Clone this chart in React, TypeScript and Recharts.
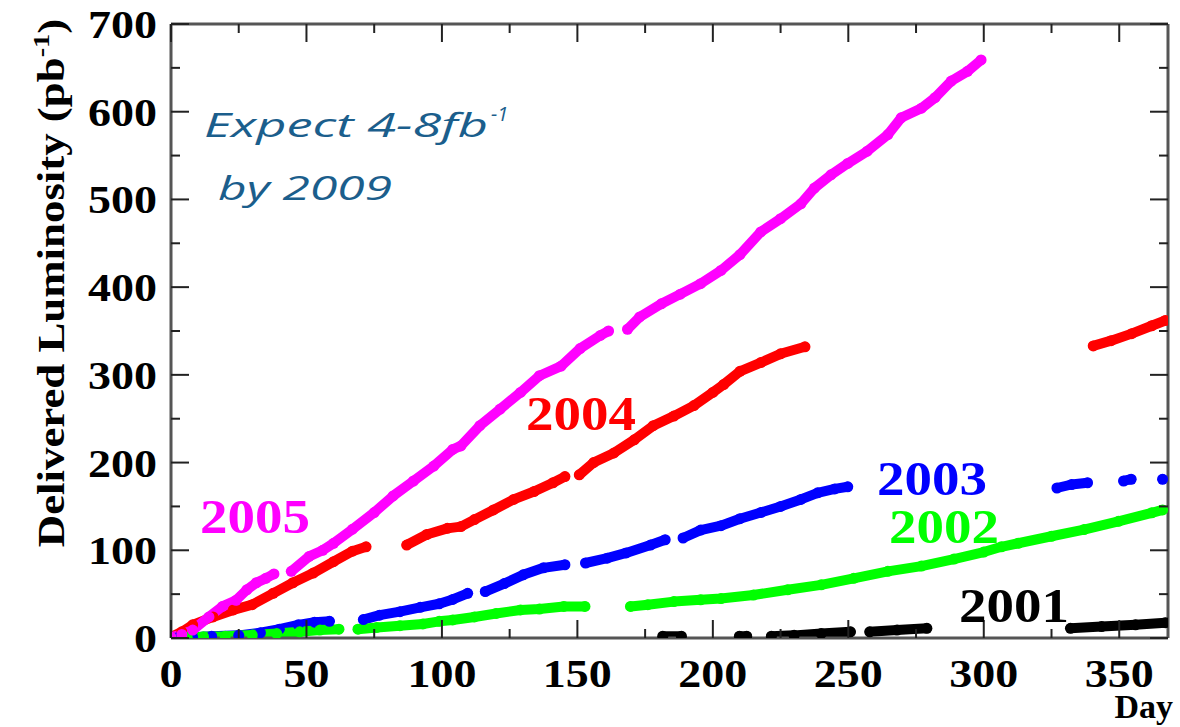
import { LineChart, Line, XAxis, YAxis } from "recharts"

const CHART_W = 1180
const CHART_H = 727

// day of year vs delivered luminosity (pb^-1); null marks a gap in the run
const day2005 = [0, 4, 8, 14, 19, 24, 28, 31.5, 35, 38, 41, 44.4, 51, 56, 60, 67, 75, 82, 89.5, 97, 104, 107, 114, 121.5, 129, 136, 144, 151, 158.5, 161.5, 165, 168.5, 173, 181, 188, 195.5, 203, 210, 217.7, 225, 232.5, 237.5, 243.6, 249.8, 257, 264.6, 269.5, 277, 282, 288, 294, 299]
const lum2005 = [1, 4, 9, 24, 36, 43, 55, 63, 68, 73, null, 76, 93, 100, 108, 124, 143, 162, 179, 196, 215, 219, 242, 261, 280, 299, 310, 330, 345, 350, null, 352, 366, 381, 392, 404, 419, 437, 463, 478, 495, 513, 528, 541, 555, 574, 593, 604, 616, 635, 646, 659]

const day2004 = [0, 4, 8, 15.5, 23, 30, 37.7, 45, 52.5, 60, 67, 72, 80, 87, 94.4, 102, 107, 112, 119, 126.5, 134, 141, 145.4, 148, 150.7, 156, 163.5, 171, 178, 185.6, 193, 200, 204, 210, 217.7, 225, 234, 290, 340.4, 347, 354.6, 362, 367]
const lum2004 = [1, 7, 15, 24, 32, 38, 51, 63, 74, 87, 99, 104, null, 106, 118, 125, 127, 135, 146, 158, 167, 177, 184, null, 186, 200, 211, 226, 242, 253, 265, 280, 289, 304, 314, 324, 332, null, 333, 339, 347, 356, 362]

const day2003 = [2, 8, 15, 25, 33, 40, 47, 53, 58.5, 65, 71, 77, 84.5, 92, 99, 104, 109.5, 113, 116, 123, 130, 137.5, 145.4, 149, 153, 161, 168, 177, 182.4, 186, 189, 195.5, 203, 210, 217.7, 225, 232.5, 238.7, 245, 249.8, 290, 327, 332.4, 338.3, 345, 351.6, 354.4, 360, 366]
const lum2003 = [0, 1, 2, 3, 6, 10, 15, 18, 19, null, 21, 26, 30, 35, 39, 44, 51, null, 53, 62, 72, 80, 83.5, null, 85.5, 91, 97, 106, 112, null, 114, 123, 128, 136, 143, 150, 158, 165.5, 170, 172.4, null, 171, 175, 177, null, 179, 181, null, 181]

const day2002 = [0, 6, 12, 20, 30, 39, 47.5, 55, 62, 65, 69, 76, 84.5, 93, 99, 104, 112, 120, 129, 136, 145, 152.8, 160, 169.6, 176, 185.6, 195.5, 203, 215, 227.6, 240, 252, 264.6, 277, 289, 300, 306.5, 312.7, 325, 337, 349.7, 362, 366]
const lum2002 = [0, 0.5, 1.5, 2, 3.4, 5, 7, 9, 10, null, 10, 12, 14, 16, 19, 20.6, 24, 28, 32, 33, 36, 36, null, 36, 38, 41.5, 43.5, 45, 49, 55, 60.6, 68, 76, 82, 90, 98, 104, 108, 116, 123.6, 133, 142.7, 146]

const day2001 = [181.5, 188.4, 199, 209.8, 212.5, 217, 221.6, 230, 240, 250.8, 254, 257.9, 268, 279, 305, 332, 343.5, 356, 367]
const lum2001 = [2, 2, null, 2, 2, null, 2, 3, 5, 7, null, 7, 9, 11, null, 11, 13, 15, 17.5]

const dayTicks = [0, 25, 50, 75, 100, 125, 150, 175, 200, 225, 250, 275, 300, 325, 350]
const lumTicks = [0, 50, 100, 150, 200, 250, 300, 350, 400, 450, 500, 550, 600, 650, 700]

const toRows = (days: number[], lums: (number | null)[]) =>
  days.map((d, i) => ({ day: d, lum: lums[i] }))

const series = [
  { name: "2001", color: "#000000", rows: toRows(day2001, lum2001) },
  { name: "2004", color: "#ff0000", rows: toRows(day2004, lum2004) },
  { name: "2003", color: "#0000ff", rows: toRows(day2003, lum2003) },
  { name: "2002", color: "#00ff00", rows: toRows(day2002, lum2002) },
  { name: "2005", color: "#ff00ff", rows: toRows(day2005, lum2005) },
]

const SERIF = "'Liberation Serif', 'Times New Roman', serif"
const SANS = "'Open Sans', 'DejaVu Sans', sans-serif"
const GAP = 14
const MAJOR = 18
const MINOR = 9
const DIGIT_W = 23

function LeftTick({ x, y, payload }: any) {
  const v = payload.value
  const major = v % 100 === 0
  const ax = x + GAP
  return (
    <g>
      <line x1={ax} x2={ax + (major ? MAJOR : MINOR)} y1={y} y2={y} stroke="#222" strokeWidth={2} />
      {major && (
        <text
          x={x}
          y={y + 14}
          textAnchor="end"
          fontFamily={SERIF}
          fontWeight="bold"
          fontSize={41}
          textLength={String(v).length * DIGIT_W}
          lengthAdjust="spacingAndGlyphs"
          fill="#000"
        >
          {v}
        </text>
      )}
    </g>
  )
}

function RightTick({ x, y, payload }: any) {
  const major = payload.value % 100 === 0
  const ax = x - GAP
  return <line x1={ax} x2={ax - (major ? MAJOR : MINOR)} y1={y} y2={y} stroke="#222" strokeWidth={2} />
}

function BottomTick({ x, y, payload }: any) {
  const v = payload.value
  const major = v % 50 === 0
  const ay = y - GAP
  return (
    <g>
      <line x1={x} x2={x} y1={ay} y2={ay - (major ? MAJOR : MINOR)} stroke="#222" strokeWidth={2} />
      {major && (
        <text
          x={x}
          y={ay + 49}
          textAnchor="middle"
          fontFamily={SERIF}
          fontWeight="bold"
          fontSize={41}
          textLength={String(v).length * DIGIT_W}
          lengthAdjust="spacingAndGlyphs"
          fill="#000"
        >
          {v}
        </text>
      )}
    </g>
  )
}

function TopTick({ x, y, payload }: any) {
  const major = payload.value % 50 === 0
  const ay = y + GAP
  return <line x1={x} x2={x} y1={ay} y2={ay + (major ? MAJOR : MINOR)} stroke="#222" strokeWidth={2} />
}

const axisLine = { stroke: "#555", strokeWidth: 3 }

const yearLabels = [
  { text: "2005", color: "#ff00ff", x: 200, y: 533 },
  { text: "2004", color: "#ff0000", x: 526, y: 430 },
  { text: "2003", color: "#0000ff", x: 877, y: 495 },
  { text: "2002", color: "#00ff00", x: 889, y: 543 },
  { text: "2001", color: "#000000", x: 959, y: 622 },
]

export default function App() {
  return (
    <div style={{ position: "absolute", left: 0, top: 0, width: CHART_W, height: CHART_H, background: "#fff" }}>
      <LineChart width={CHART_W} height={CHART_H} margin={{ top: 22, right: 10, bottom: 29, left: 0 }}>
        <XAxis
          xAxisId="bottom"
          dataKey="day"
          type="number"
          domain={[0, 368]}
          allowDataOverflow
          ticks={dayTicks}
          interval={0}
          height={60}
          tickSize={0}
          tickMargin={GAP}
          tickLine={false}
          axisLine={axisLine}
          tick={<BottomTick />}
        />
        <XAxis
          xAxisId="top"
          orientation="top"
          dataKey="day"
          type="number"
          domain={[0, 368]}
          allowDataOverflow
          ticks={dayTicks}
          interval={0}
          height={2}
          tickSize={0}
          tickMargin={GAP}
          tickLine={false}
          axisLine={axisLine}
          tick={<TopTick />}
        />
        <YAxis
          yAxisId="left"
          type="number"
          domain={[0, 700]}
          allowDataOverflow
          ticks={lumTicks}
          interval={0}
          width={171}
          tickSize={0}
          tickMargin={GAP}
          tickLine={false}
          axisLine={axisLine}
          tick={<LeftTick />}
        />
        <YAxis
          yAxisId="right"
          orientation="right"
          type="number"
          domain={[0, 700]}
          allowDataOverflow
          ticks={lumTicks}
          interval={0}
          width={2}
          tickSize={0}
          tickMargin={GAP}
          tickLine={false}
          axisLine={axisLine}
          tick={<RightTick />}
        />
        {series.map((s) => (
          <Line
            key={s.name}
            xAxisId="bottom"
            yAxisId="left"
            data={s.rows}
            dataKey="lum"
            type="linear"
            stroke={s.color}
            strokeWidth={10}
            strokeLinecap="round"
            strokeLinejoin="round"
            connectNulls={false}
            dot={{ r: 5.5, fill: s.color, stroke: "none" }}
            activeDot={false}
            isAnimationActive={false}
          />
        ))}
      </LineChart>
      <svg
        width={CHART_W}
        height={CHART_H}
        style={{ position: "absolute", left: 0, top: 0, pointerEvents: "none" }}
      >
        <text
          transform="translate(64 283) rotate(-90) scale(1.18 1)"
          textAnchor="middle"
          fontFamily={SERIF}
          fontWeight="bold"
          fontSize={38}
          fill="#000"
        >
          Delivered Luminosity (pb
          <tspan fontSize={24} dy={-15}>-1</tspan>
          <tspan dy={15}>)</tspan>
        </text>
        <text x={1173} y={718} textAnchor="end" fontFamily={SERIF} fontWeight="bold" fontSize={34} fill="#000">
          Day
        </text>
        {yearLabels.map((l) => (
          <text
            key={l.text}
            x={l.x}
            y={l.y}
            fontFamily={SERIF}
            fontWeight="bold"
            fontSize={48}
            textLength={110}
            lengthAdjust="spacingAndGlyphs"
            fill={l.color}
          >
            {l.text}
          </text>
        ))}
        <text
          x={204}
          y={137}
          fontFamily={SANS}
          fontStyle="italic"
          fontSize={32}
          textLength={284}
          lengthAdjust="spacingAndGlyphs"
          fill="#1b5e8c"
        >
          Expect 4-8fb
        </text>
        <text x={491} y={121} fontFamily={SANS} fontStyle="italic" fontSize={20} fill="#1b5e8c">
          -1
        </text>
        <text
          x={218}
          y={200}
          fontFamily={SANS}
          fontStyle="italic"
          fontSize={32}
          textLength={174}
          lengthAdjust="spacingAndGlyphs"
          fill="#1b5e8c"
        >
          by 2009
        </text>
      </svg>
    </div>
  )
}
